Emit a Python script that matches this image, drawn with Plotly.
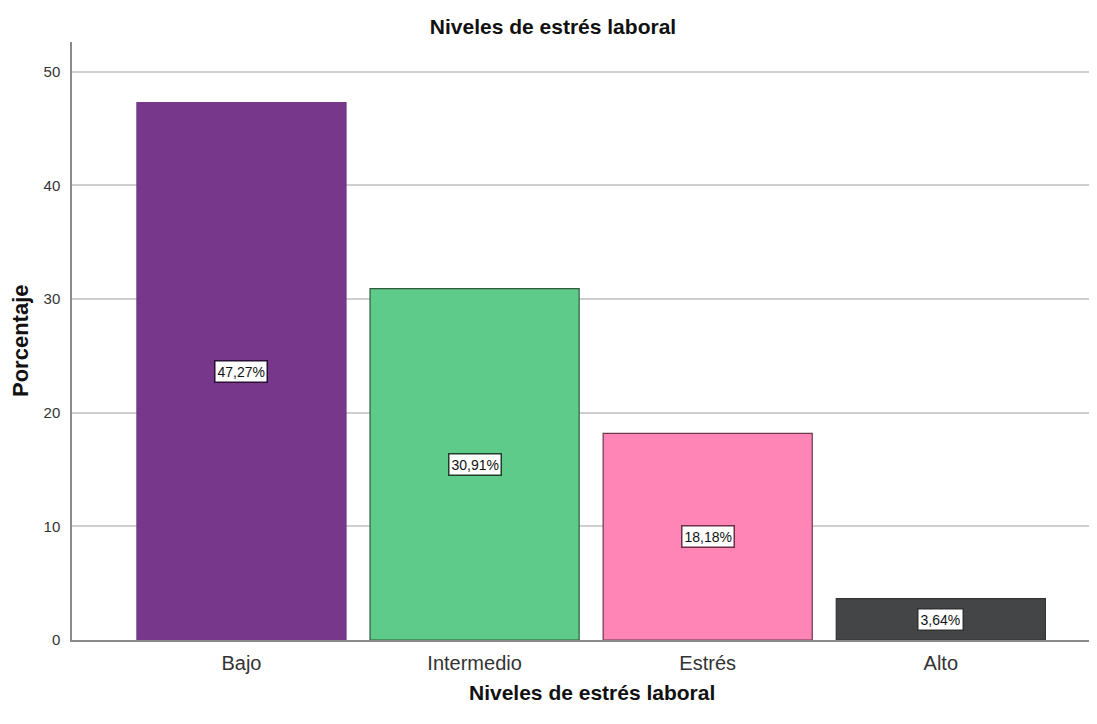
import plotly.graph_objects as go

categories = ["Bajo", "Intermedio", "Estrés", "Alto"]
values = [47.27, 30.91, 18.18, 3.64]
labels = ["47,27%", "30,91%", "18,18%", "3,64%"]
bar_colors = ["#77378a", "#5ecb8b", "#ff85b6", "#444546"]
line_colors = ["#77378a", "#2f5a3c", "#6a3a4a", "#333333"]
box_border = ["#2a0f35", "#203d2a", "#6b2f48", "#333333"]
y_ticks = [0, 10, 20, 30, 40, 50]
title_text = "Niveles de estrés laboral"
x_title = "Niveles de estrés laboral"
y_title = "Porcentaje"

FONT = "Liberation Sans, Arial, sans-serif"
W, H = 1089, 716  # page body offsets the figure by 8 px

fig = go.Figure()
fig.add_trace(go.Bar(
    x=categories, y=values,
    marker=dict(color=bar_colors, line=dict(color=line_colors, width=1.2)),
    width=0.897,
    hoverinfo="skip",
))

for c, v, t, bc in zip(categories, values, labels, box_border):
    fig.add_annotation(
        x=c, y=v / 2, text=t, showarrow=False,
        font=dict(family=FONT, size=14, color="#111111"),
        bgcolor="white", bordercolor=bc, borderwidth=1.5, borderpad=2,
    )

# axis titles
fig.add_annotation(
    xref="paper", yref="paper", x=0.507, y=0, yshift=-52,
    xanchor="center", yanchor="middle", showarrow=False,
    text="<b>" + x_title + "</b>",
    font=dict(family=FONT, size=21, color="#111111"),
)
fig.add_annotation(
    xref="paper", yref="paper", x=0, y=0.5, xshift=-52,
    xanchor="center", yanchor="middle", showarrow=False, textangle=-90,
    text="<b>" + y_title + "</b>",
    font=dict(family=FONT, size=22, color="#111111"),
)

fig.update_layout(
    width=W, height=H,
    margin=dict(l=64, r=0, t=34, b=84),
    paper_bgcolor="white", plot_bgcolor="white",
    showlegend=False,
    title=dict(text="<b>" + title_text + "</b>", x=(553 - 8) / W, xanchor="center",
               y=1 - 18.5 / H, yanchor="middle", yref="container",
               font=dict(family=FONT, size=21, color="#111111")),
    font=dict(family=FONT, color="#333333"),
)
fig.update_xaxes(
    range=[-0.727, 3.67],
    showline=True, linecolor="#8a8a8a", linewidth=1.5,
    showgrid=False, ticks="", ticklabelstandoff=4,
    tickfont=dict(family=FONT, size=20, color="#333333"),
)
fig.update_yaxes(
    range=[0, 52.6],
    tickvals=y_ticks, ticktext=[str(v) for v in y_ticks],
    showline=True, linecolor="#8a8a8a", linewidth=1.5,
    showgrid=True, gridcolor="#cfcfcf", gridwidth=1.5,
    zeroline=False, ticks="", ticklabelstandoff=7,
    tickfont=dict(family=FONT, size=15, color="#333333"),
)

fig.write_html("out.html")
